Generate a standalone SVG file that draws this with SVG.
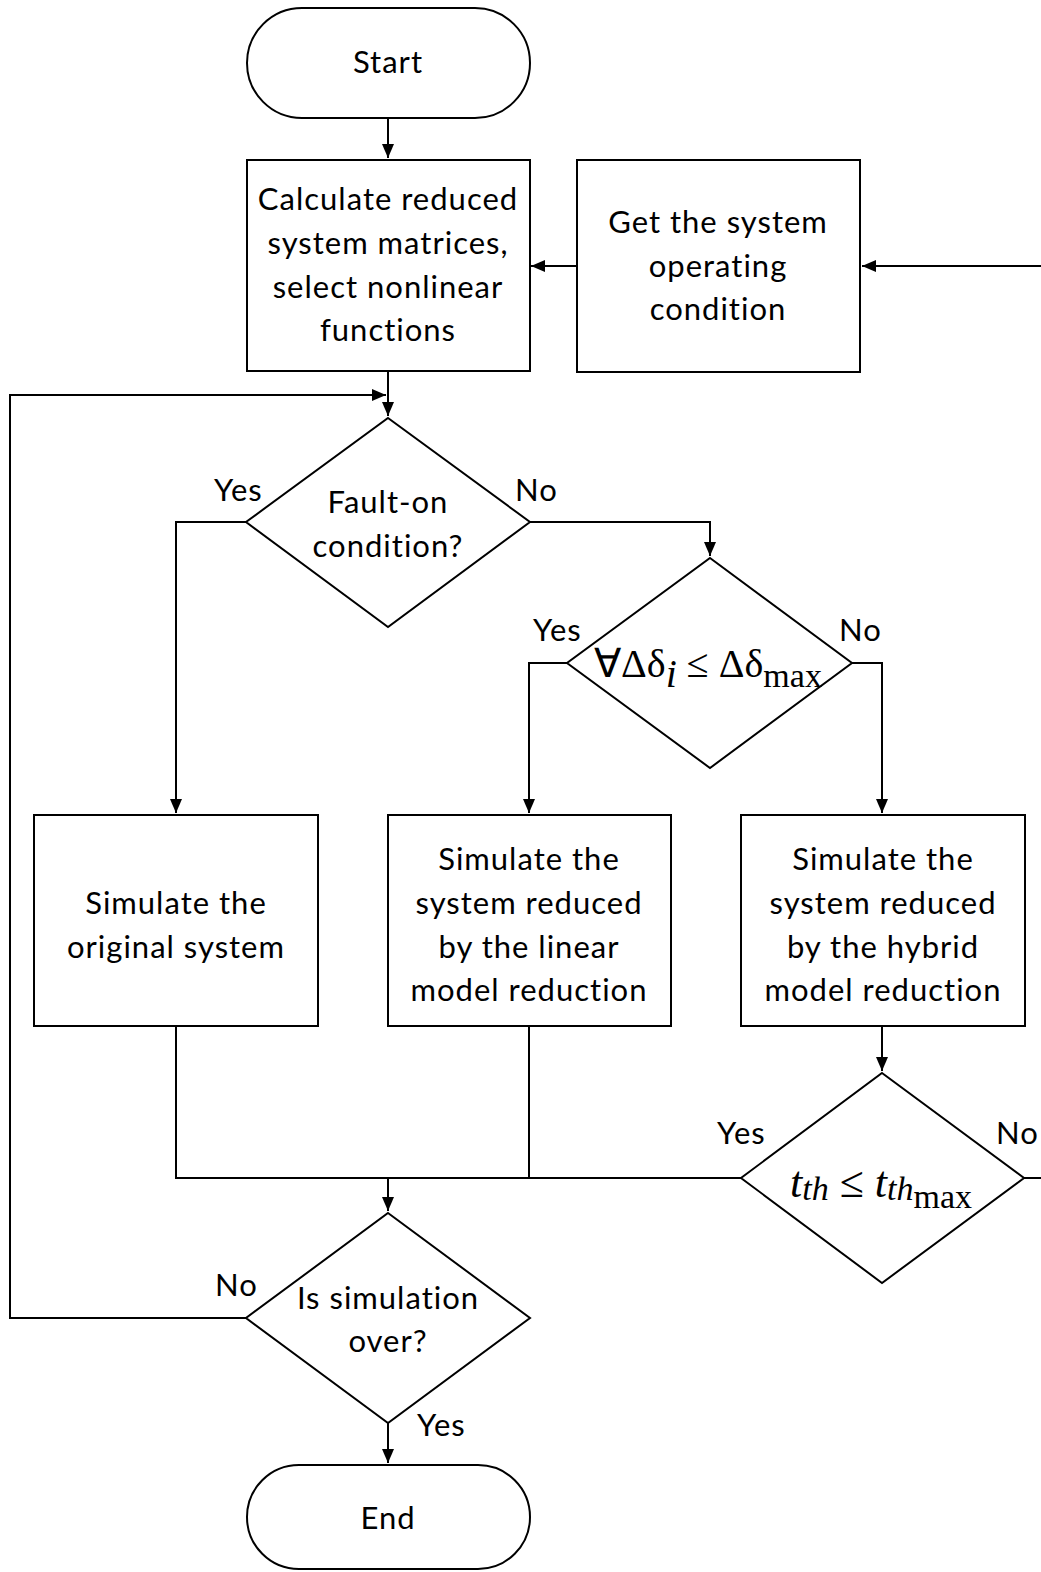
<svg xmlns="http://www.w3.org/2000/svg" width="1041" height="1572" viewBox="0 0 1041 1572">
<style>
.s{fill:#fff;stroke:#000;stroke-width:2}
.c{fill:none;stroke:#000;stroke-width:2}
.t{font-family:Lato,"Open Sans","Liberation Sans",sans-serif;font-size:31px;letter-spacing:1px;fill:#000;text-anchor:middle}
.l{font-family:Lato,"Open Sans","Liberation Sans",sans-serif;font-size:31px;letter-spacing:1px;fill:#000}
.m{font-family:"Liberation Serif","Times New Roman",serif;fill:#000}
</style>
<defs>
<marker id="a" markerWidth="14" markerHeight="14" refX="14" refY="7" orient="auto" markerUnits="userSpaceOnUse">
<path d="M0,1 L14,7 L0,13 Z" fill="#000"/>
</marker>
</defs>
<g id="connectors">
<path class="c" d="M388,118 V158" marker-end="url(#a)"/>
<path class="c" d="M576,266 H531" marker-end="url(#a)"/>
<path class="c" d="M1045,266 H862" marker-end="url(#a)"/>
<path class="c" d="M388,371 V416" marker-end="url(#a)"/>
<path class="c" d="M246,1318 H10 V395 H386" marker-end="url(#a)"/>
<path class="c" d="M246,522 H176 V813" marker-end="url(#a)"/>
<path class="c" d="M530,522 H710 V556" marker-end="url(#a)"/>
<path class="c" d="M567,663 H529 V813" marker-end="url(#a)"/>
<path class="c" d="M852,663 H882 V813" marker-end="url(#a)"/>
<path class="c" d="M882,1026 V1071" marker-end="url(#a)"/>
<path class="c" d="M176,1026 V1178 H741"/>
<path class="c" d="M529,1026 V1178"/>
<path class="c" d="M388,1178 V1211" marker-end="url(#a)"/>
<path class="c" d="M1024,1178 H1045"/>
<path class="c" d="M388,1423 V1463" marker-end="url(#a)"/>
<text class="l" x="214" y="501">Yes</text>
<text class="l" x="515" y="501">No</text>
<text class="l" x="533" y="641">Yes</text>
<text class="l" x="839" y="641">No</text>
<text class="l" x="717" y="1144">Yes</text>
<text class="l" x="996" y="1144">No</text>
<text class="l" x="215" y="1296">No</text>
<text class="l" x="417" y="1436">Yes</text>
</g>
<g id="start">
<rect class="s" x="247" y="8" width="283" height="110" rx="55" ry="55"/>
<text class="t" x="388" y="73">Start</text>
</g>
<g id="calc">
<rect class="s" x="247" y="160" width="283" height="211"/>
<text class="t" x="388" y="210">Calculate reduced</text>
<text class="t" x="388" y="254">system matrices,</text>
<text class="t" x="388" y="298">select nonlinear</text>
<text class="t" x="388" y="341">functions</text>
</g>
<g id="getcond">
<rect class="s" x="577" y="160" width="283" height="212"/>
<text class="t" x="718" y="233">Get the system</text>
<text class="t" x="718" y="277">operating</text>
<text class="t" x="718" y="320">condition</text>
</g>
<g id="fault">
<polygon class="s" points="388,418 530,522 388,627 246,522"/>
<text class="t" x="388" y="513">Fault-on</text>
<text class="t" x="388" y="557">condition?</text>
</g>
<g id="delta">
<polygon class="s" points="710,558 852,663 710,768 567,663"/>
<text class="m" x="708" y="677" text-anchor="middle" font-size="40"><tspan>∀Δδ</tspan><tspan font-style="italic" dy="10">i</tspan><tspan dy="-10"> ≤ Δδ</tspan><tspan font-size="34" dy="10">max</tspan></text>
</g>
<g id="orig">
<rect class="s" x="34" y="815" width="284" height="211"/>
<text class="t" x="176" y="914">Simulate the</text>
<text class="t" x="176" y="958">original system</text>
</g>
<g id="linear">
<rect class="s" x="388" y="815" width="283" height="211"/>
<text class="t" x="529" y="870">Simulate the</text>
<text class="t" x="529" y="914">system reduced</text>
<text class="t" x="529" y="958">by the linear</text>
<text class="t" x="529" y="1001">model reduction</text>
</g>
<g id="hybrid">
<rect class="s" x="741" y="815" width="284" height="211"/>
<text class="t" x="883" y="870">Simulate the</text>
<text class="t" x="883" y="914">system reduced</text>
<text class="t" x="883" y="958">by the  hybrid</text>
<text class="t" x="883" y="1001">model reduction</text>
</g>
<g id="tth">
<polygon class="s" points="882,1073 1024,1178 882,1283 741,1178"/>
<text class="m" x="881" y="1197" text-anchor="middle" font-size="44"><tspan font-style="italic">t</tspan><tspan font-style="italic" font-size="34" dy="3">th</tspan><tspan dy="-3"> ≤ </tspan><tspan font-style="italic">t</tspan><tspan font-style="italic" font-size="34" dy="3">th</tspan><tspan font-size="34" dy="8">max</tspan></text>
</g>
<g id="over">
<polygon class="s" points="388,1213 530,1318 388,1423 246,1318"/>
<text class="t" x="388" y="1309">Is simulation</text>
<text class="t" x="388" y="1352">over?</text>
</g>
<g id="end">
<rect class="s" x="247" y="1465" width="283" height="104" rx="52" ry="52"/>
<text class="t" x="388" y="1529">End</text>
</g>
</svg>
